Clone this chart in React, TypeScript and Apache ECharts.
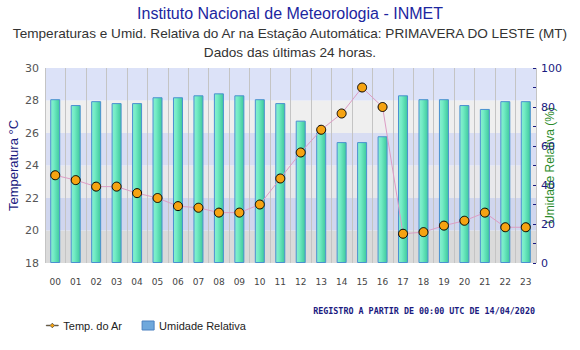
import React, { useEffect, useRef } from "react";
import * as echarts from "echarts";

const hours = ["00","01","02","03","04","05","06","07","08","09","10","11","12","13","14","15","16","17","18","19","20","21","22","23"];
const tempAr = [23.4,23.1,22.7,22.7,22.3,22.0,21.5,21.4,21.1,21.1,21.6,23.2,24.8,26.2,27.2,28.8,27.6,19.8,19.9,20.3,20.6,21.1,20.2,20.2];
const umidade = [84,81,83,82,82,85,85,86,87,86,84,82,73,67,62,62,65,86,84,84,81,79,83,83];
const titleText = "Instituto Nacional de Meteorologia - INMET";
const subtitle1 = "Temperaturas e Umid. Relativa do Ar na Estação Automática: PRIMAVERA DO LESTE (MT)";
const subtitle2 = "Dados das últimas 24 horas.";
const registro = "REGISTRO A PARTIR DE 00:00 UTC DE 14/04/2020";

export default function App() {
  const ref = useRef<HTMLDivElement>(null);
  useEffect(() => {
    document.body.style.margin = "0";
    const chart = echarts.init(ref.current!, null, { renderer: "svg" });
    const sans = "'Liberation Sans', Arial, sans-serif";
    const option: any = {
      animation: false,
      backgroundColor: "#ffffff",
      title: [
        { text: titleText, left: "center", top: 4, padding: 0, textStyle: { fontFamily: sans, fontSize: 16, fontWeight: "normal", color: "#1c26a0", lineHeight: 18 } },
        { text: subtitle1, left: "center", top: 25, padding: 0, textStyle: { fontFamily: sans, fontSize: 13.6, fontWeight: "normal", color: "#333333", lineHeight: 16 } },
        { text: subtitle2, left: "center", top: 44, padding: 0, textStyle: { fontFamily: sans, fontSize: 13.6, fontWeight: "normal", color: "#333333", lineHeight: 16 } },
      ],
      grid: { left: 45, right: 44, top: 68, bottom: 87, containLabel: false, outerBoundsMode: "none" },
      legend: {
        left: 46,
        top: 320,
        padding: 0,
        itemWidth: 12,
        itemHeight: 9,
        itemGap: 19,
        textStyle: { fontFamily: sans, fontSize: 11, color: "#222222" },
        data: [
          {
            name: "Temp. do Ar",
            icon: "path://M0,4.2L4,4.2L6,2.2L8,4.2L12,4.2L12,4.8L8,4.8L6,6.8L4,4.8L0,4.8Z",
            itemStyle: { color: "#f5a312", borderColor: "#222222", borderWidth: 0.6 },
          },
          { name: "Umidade Relativa", icon: "rect", itemStyle: { color: "#6fa8dc", borderColor: "#4a80c0", borderWidth: 1 } },
        ],
      },
      xAxis: {
        type: "category",
        data: hours,
        boundaryGap: true,
        axisLine: { show: false },
        axisTick: { show: false },
        axisLabel: { fontFamily: "'DejaVu Sans', Verdana, sans-serif", fontSize: 9, color: "#444444", margin: 14 },
        splitLine: { show: true, lineStyle: { color: "#c4c4c4", width: 1 } },
      },
      yAxis: [
        {
          type: "value",
          min: 18,
          max: 30,
          interval: 2,
          name: "Temperatura °C",
          nameLocation: "middle",
          nameGap: 25,
          nameRotate: 90,
          nameMoveOverlap: false,
          nameTextStyle: { fontFamily: sans, fontSize: 13, color: "#1a1a80" },
          axisLine: { show: false },
          axisTick: { show: false },
          axisLabel: { fontFamily: "'DejaVu Sans', Verdana, sans-serif", fontSize: 11, color: "#555555", margin: 6 },
          splitLine: { show: false },
          splitArea: {
            show: true,
            areaStyle: { color: ["#dadada", "#d0d6ee", "#e8e8eb", "#d8ddf3", "#efefef", "#dce2f8"] },
          },
        },
        {
          type: "value",
          min: 0,
          max: 100,
          interval: 20,
          position: "right",
          name: "Umidade Relativa (%)",
          nameLocation: "middle",
          nameGap: 8,
          nameRotate: 90,
          nameMoveOverlap: false,
          nameTextStyle: { fontFamily: sans, fontSize: 12, color: "#2a8a2a" },
          axisLine: { show: false },
          axisTick: { show: true, inside: true, length: 3, lineStyle: { color: "#1a1a80" } },
          minorTick: { show: true, splitNumber: 2, length: 3, lineStyle: { color: "#1a1a80" } },
          axisLabel: { fontFamily: "'DejaVu Sans', Verdana, sans-serif", fontSize: 11, color: "#1a1a80", margin: 5 },
          splitLine: { show: false },
        },
      ],
      series: [
        {
          name: "Umidade Relativa",
          type: "bar",
          yAxisIndex: 1,
          data: umidade,
          barWidth: 10,
          z: 2,
          itemStyle: {
            color: new echarts.graphic.LinearGradient(0, 0, 1, 0, [
              { offset: 0, color: "#8aeed0" },
              { offset: 0.35, color: "#72ecc4" },
              { offset: 1, color: "#3ec89c" },
            ]),
            borderColor: "#4a90d0",
            borderWidth: 1,
          },
        },
        {
          name: "Temp. do Ar",
          type: "line",
          yAxisIndex: 0,
          data: tempAr,
          z: 3,
          symbol: "circle",
          symbolSize: 9,
          lineStyle: { color: "#dc9cc4", width: 1 },
          itemStyle: { color: "#f5a312", borderColor: "#000000", borderWidth: 1 },
        },
      ],
      graphic: [
        {
          type: "text",
          right: 45,
          top: 307,
          style: { text: registro, fontFamily: "'DejaVu Sans Mono', monospace", fontSize: 8.4, fontWeight: "bold", fill: "#1a1a80" },
        },
      ],
    };
    chart.setOption(option);
    return () => chart.dispose();
  }, []);
  return <div ref={ref} style={{ width: 580, height: 350 }} />;
}
